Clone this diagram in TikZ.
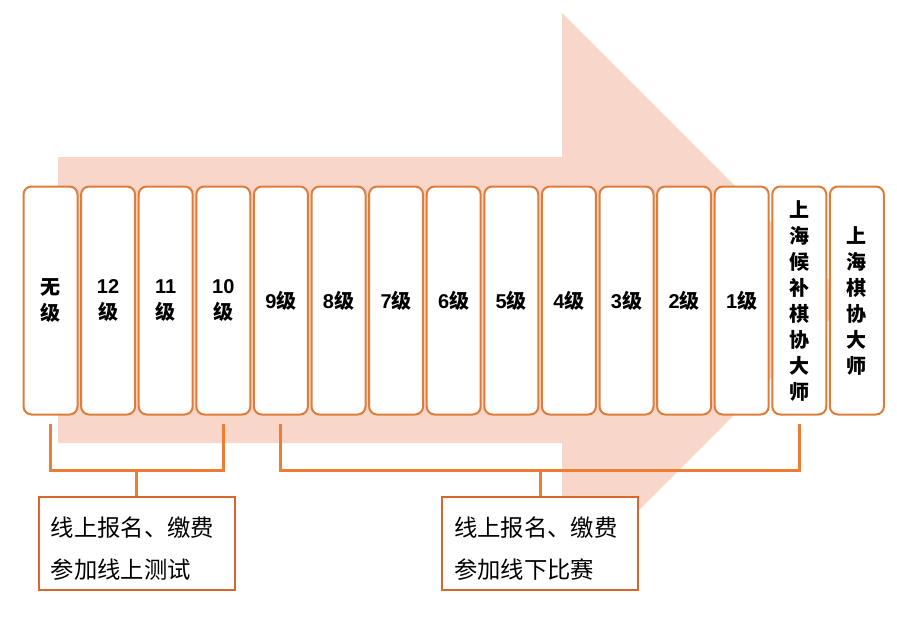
\documentclass[tikz,border=0pt]{standalone}
\usepackage{fontspec}
\setmainfont{Liberation Sans}
\newfontfamily\cjk{Noto Sans CJK SC}
\usetikzlibrary{positioning,calc}

\definecolor{arrowfill}{RGB}{248,214,202}
\definecolor{boxline}{RGB}{224,124,58}
\definecolor{bracketline}{RGB}{237,125,49}
\definecolor{noteline}{RGB}{214,104,44}

\begin{document}
\begin{tikzpicture}[x=0.75pt,y=-0.75pt]
				\tikzstyle{lvl}=[rectangle, rounded corners=6pt, draw=boxline, line width=1.5pt, fill=white, minimum width=40.5pt, minimum height=171pt, inner sep=0pt, align=center, font=\fontsize{15}{19.5}\selectfont\bfseries]
				\tikzstyle{note}=[rectangle, draw=noteline, line width=1.5pt, fill=white, minimum width=147pt, minimum height=69.5pt, text width=129pt, align=left, inner sep=0pt, font=\fontsize{17.5}{32}\selectfont\cjk]
				\tikzstyle{bracket}=[draw=bracketline, line width=2.2pt]
				\useasboundingbox (0,0) rectangle (897,621);
				% big arrow behind the levels
				\fill[arrowfill] (58,157) -- (562,157) -- (562,13) -- (849,300) -- (562,587) -- (562,443) -- (58,443) -- cycle;
				% levels
				\node[lvl] (wu) at (50.5,300.5) {{\cjk 无}\\{\cjk 级}};
				\node[lvl, right=1.2pt of wu] (g12) {12\\{\cjk 级}};
				\node[lvl, right=1.2pt of g12] (g11) {11\\{\cjk 级}};
				\node[lvl, right=1.2pt of g11] (g10) {10\\{\cjk 级}};
				\node[lvl, right=1.2pt of g10] (g9) {9{\cjk 级}};
				\node[lvl, right=1.2pt of g9] (g8) {8{\cjk 级}};
				\node[lvl, right=1.2pt of g8] (g7) {7{\cjk 级}};
				\node[lvl, right=1.2pt of g7] (g6) {6{\cjk 级}};
				\node[lvl, right=1.2pt of g6] (g5) {5{\cjk 级}};
				\node[lvl, right=1.2pt of g5] (g4) {4{\cjk 级}};
				\node[lvl, right=1.2pt of g4] (g3) {3{\cjk 级}};
				\node[lvl, right=1.2pt of g3] (g2) {2{\cjk 级}};
				\node[lvl, right=1.2pt of g2] (g1) {1{\cjk 级}};
				\node[lvl, right=1.2pt of g1, font=\fontsize{15}{19.5}\selectfont\bfseries\cjk] (hbds) {上\\海\\候\\补\\棋\\协\\大\\师};
				\node[lvl, right=1.2pt of hbds, font=\fontsize{15}{19.5}\selectfont\bfseries\cjk] (ds) {上\\海\\棋\\协\\大\\师};
				% brackets
				\coordinate (bl) at ($(wu.south)!0.5!(g10.south)+(0,55)$);
				\coordinate (br) at ($(g9.south)!0.5!(hbds.south)+(0,55)$);
				\node[note, below=19pt of bl] (online) {\rule{0pt}{23pt}线上报名、缴费\\参加线上测试};
				\node[note, below=19pt of br] (offline) {\rule{0pt}{23pt}线上报名、缴费\\参加线下比赛};
				\draw[bracket] ([yshift=-6pt]wu.south) |- (bl) -| ([yshift=-6pt]g10.south);
				\draw[bracket] (bl) -- (online.north);
				\draw[bracket] ([yshift=-6pt]g9.south) |- (br) -| ([yshift=-6pt]hbds.south);
				\draw[bracket] (br) -- (offline.north);
			\end{tikzpicture}
\end{document}
